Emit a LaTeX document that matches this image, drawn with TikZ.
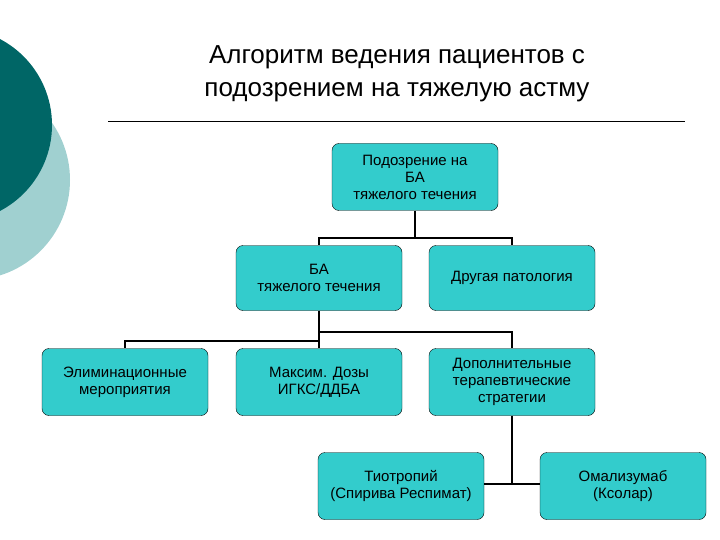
\documentclass[tikz,border=0pt]{standalone}
\usepackage{fontspec}
\setmainfont{Liberation Sans}
\usetikzlibrary{positioning}
\definecolor{teal}{RGB}{51, 204, 204}
\definecolor{darkteal}{RGB}{0, 102, 102}
\definecolor{paleteal}{RGB}{160, 208, 208}
\tikzset{
  box/.style={draw=black, fill=teal, rounded corners=7pt, minimum width=166pt,
    minimum height=67pt, align=center, font=\fontsize{15}{17}\selectfont, inner sep=2pt},
  link/.style={draw=black, line width=1.8pt}
}
\begin{document}
\begin{tikzpicture}[x=1pt, y=-1pt]
    \useasboundingbox (0,0) rectangle (720,540);
    % decorative circles
    \fill[paleteal] (-30,180) circle (100);
    \fill[darkteal] (-45,125) circle (97);
    % title
    \node[font=\fontsize{26}{33}\selectfont, align=center] (title) at (397,74)
      {Алгоритм ведения пациентов с\\подозрением на тяжелую астму};
    \draw[line width=0.6pt] (108,121) -- (685,121);

    % boxes
    \node[box] (suspect) at (415,177) {Подозрение на\\БА\\тяжелого течения};
    \node[box, minimum height=65pt] (severe) at (319,278) {БА\\тяжелого течения};
    \node[box, minimum height=65pt] (other) at (512,278) {Другая патология};
    \node[box] (elim) at (125,382) {Элиминационные\\мероприятия};
    \node[box] (maxdose) at (319,382) {Максим. Дозы\\ИГКС/ДДБА};
    \node[box] (extra) at (512,382) {Дополнительные\\терапевтические\\стратегии};
    \node[box] (tio) at (401,486) {Тиотропий\\(Спирива Респимат)};
    \node[box] (omal) at (623,486) {Омализумаб\\(Ксолар)};

    % connectors
    \coordinate (j1) at (415,238);
    \coordinate (j2) at (319,332);
    \coordinate (j3) at (319,341);
    \coordinate (j4) at (512,484);
    \draw[link] (suspect.south) -- (j1) -| (severe.north);
    \draw[link] (j1) -| (other.north);
    \draw[link] (severe.south) -- (j2) -| (extra.north);
    \draw[link] (j2) -- (maxdose.north);
    \draw[link] (j3) -| (elim.north);
    \draw[link] (extra.south) -- (j4);
    \draw[link] (tio.east |- j4) -- (omal.west |- j4);
\end{tikzpicture}
\end{document}
